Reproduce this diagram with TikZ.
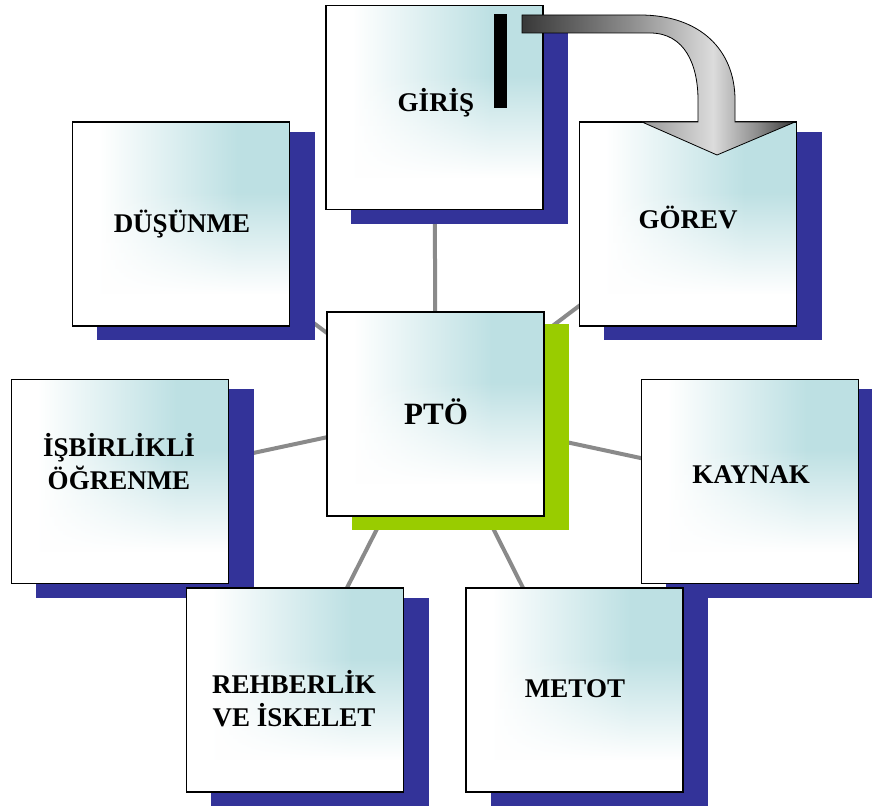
\documentclass[tikz,border=0pt]{standalone}
\usepackage{fontspec}
\setmainfont{Liberation Serif}
\usetikzlibrary{fadings}

\definecolor{shadowblue}{HTML}{333399}
\definecolor{shadowgreen}{HTML}{99CC00}
\definecolor{linkgray}{HTML}{8A8A8A}
\definecolor{paleteal}{HTML}{BDE0E3}
\definecolor{ashA}{HTML}{383838}
\definecolor{ashB}{HTML}{8E8E8E}
\definecolor{ashC}{HTML}{DCDCDC}

% box fill: white on the left, pale teal on the right
\pgfdeclarehorizontalshading{boxshade}{100bp}{color(0bp)=(white); color(31bp)=(white); color(63bp)=(paleteal); color(100bp)=(paleteal)}
% white wash rising from the bottom edge
\pgfdeclareverticalshading{washshade}{100bp}{color(0bp)=(white); color(33bp)=(white); color(58bp)=(black); color(100bp)=(black)}
\pgfdeclarefading{wash}{\pgfuseshading{washshade}}

% grey metallic look for the bent block arrow
\pgfdeclarehorizontalshading{arrowshade}{100bp}{color(0bp)=(ashA); color(25bp)=(ashA); color(45bp)=(ashB); color(60bp)=(ashC); color(68bp)=(ashB); color(75bp)=(ashA); color(100bp)=(ashA)}

\pgfdeclarelayer{links}
\pgfdeclarelayer{shadows}
\pgfsetlayers{links,shadows,main}

\tikzset{
  box/.style={shade, shading=boxshade,
    postaction={fill=white, path fading=wash},
    postaction={draw=black, line width=1.5pt},
    minimum width=217pt, minimum height=204pt, inner sep=0pt},
  lbl/.style={font=\bfseries\fontsize{27}{33}\selectfont, inner sep=0pt, align=center},
  biglbl/.style={font=\bfseries\fontsize{31}{37}\selectfont, inner sep=0pt},
  link/.style={draw=linkgray, line width=4pt},
  blueshadow/.style={fill=shadowblue},
  greenshadow/.style={fill=shadowgreen},
}

\begin{document}
\begin{tikzpicture}[x=1pt, y=-1pt]
\useasboundingbox (0,0) rectangle (872,810);

% boxes, top row to bottom row
\node[box] (dus) at (181,224) {};
\node[box] (giris) at (434.5,107.5) {};
\node[box] (gorev) at (688,224) {};
\node[box] (isb) at (120,481.5) {};
\node[box] (pto) at (435.5,414) {};
\node[box] (kay) at (750,481.5) {};
\node[box] (reh) at (295,690) {};
\node[box] (met) at (574.5,690) {};

% labels
\node[lbl, anchor=base] (dusT) at (182,233) {DÜŞÜNME};
\node[lbl, anchor=base] (girisT) at (436,112) {GİRİŞ};
\node[lbl, anchor=base] (gorevT) at (688,229) {GÖREV};
\node[lbl] (isbT) at (119,462) {İŞBİRLİKLİ\\ÖĞRENME};
\node[biglbl, anchor=base] (ptoT) at (436,424) {PTÖ};
\node[lbl, anchor=base] (kayT) at (751,483) {KAYNAK};
\node[lbl] (rehT) at (294,699) {REHBERLİK\\VE İSKELET};
\node[lbl, anchor=base] (metT) at (575,697) {METOT};

% drop shadows behind the boxes
\begin{pgfonlayer}{shadows}
  \foreach \b in {dus,giris,gorev,isb,kay,reh,met}
    \path[blueshadow] ([shift={(25pt,-10pt)}]\b.north west) rectangle ([shift={(25pt,-14pt)}]\b.south east);
  \path[greenshadow] ([shift={(25pt,-12pt)}]pto.north west) rectangle ([shift={(25pt,-14pt)}]pto.south east);
\end{pgfonlayer}

% spokes from the centre box
\begin{pgfonlayer}{links}
  \foreach \b in {dus,giris,gorev,isb,kay,reh,met}
    \draw[link] (pto.center) -- (\b.center);
\end{pgfonlayer}

% black bar inside the top box
\fill[black] (494,14) rectangle (507,108);

% bent block arrow from GİRİŞ down onto GÖREV
\shadedraw[shading=arrowshade, draw=black, line width=0.8pt]
  (522,15) -- (640,15) .. controls (700,15) and (735,50) .. (735,100)
  -- (735,122) -- (795,122) -- (717,155) -- (642,122) -- (698,122)
  -- (698,100) .. controls (698,65) and (685,33) .. (650,33) -- (522,33) -- cycle;
\end{tikzpicture}
\end{document}
